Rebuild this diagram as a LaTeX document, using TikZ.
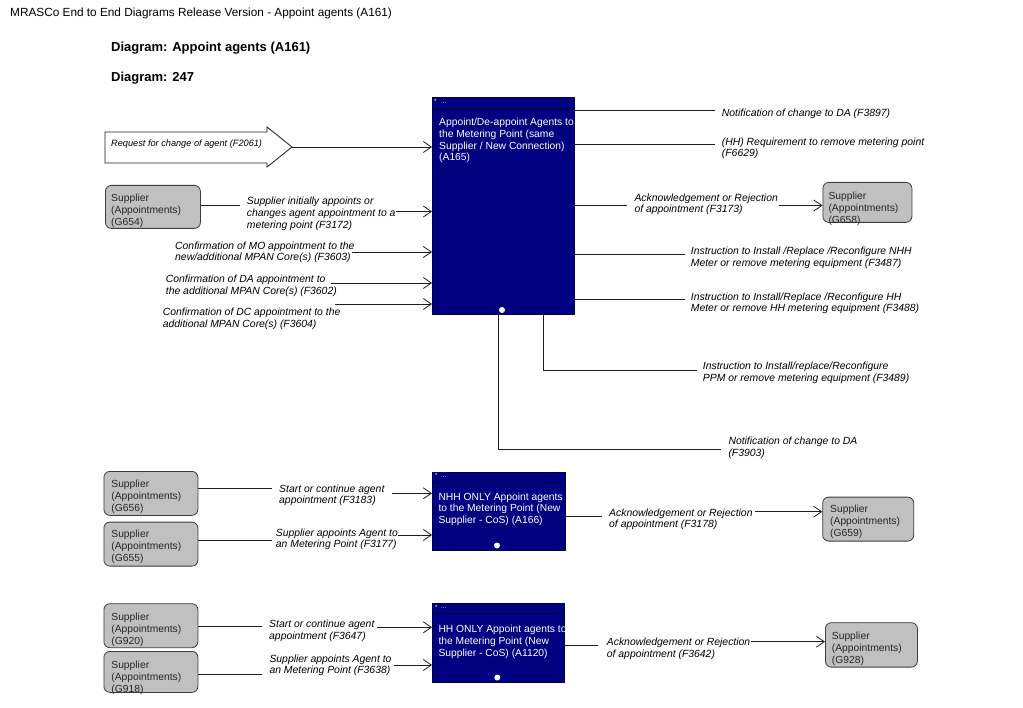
\documentclass[tikz,border=0pt]{standalone}
\usepackage{fontspec}
\setmainfont{Liberation Sans}
\usetikzlibrary{arrows.meta}
\definecolor{navybox}{RGB}{0,0,128}
\definecolor{navyedge}{RGB}{0,0,70}
\definecolor{suppfill}{RGB}{192,192,192}
\definecolor{suppedge}{RGB}{60,60,60}
\definecolor{linecol}{RGB}{30,30,30}
\tikzset{
  procbox/.style={draw=navyedge, fill=navybox, line width=0.8pt, rectangle, inner sep=0pt, anchor=north west},
  suppbox/.style={draw=suppedge, fill=suppfill, line width=0.8pt, rounded corners=6pt, inner sep=0pt, anchor=north west},
  lbl/.style={font=\fontsize{10.4}{11.7}\selectfont\itshape, anchor=north west, inner sep=0pt, align=left, text=black},
  boxtxt/.style={font=\fontsize{10.3}{11.7}\selectfont, anchor=north west, inner sep=0pt, align=left, text=white},
  supptxt/.style={font=\fontsize{10.3}{11.7}\selectfont, anchor=north west, inner sep=0pt, align=left, text=black!85},
  hdrtxt/.style={font=\fontsize{6}{6}\selectfont, anchor=north west, inner sep=0pt, text=white},
  conn/.style={draw=linecol, line width=0.8pt},
  arrconn/.style={conn, -{Straight Barb[length=8pt,width=11pt]}},
  wdot/.style={circle, fill=white, inner sep=0pt, minimum size=6pt}
}
\begin{document}
\begin{tikzpicture}[x=1pt, y=-1pt]
\useasboundingbox (0,0) rectangle (1023,708);
\fill[white] (0,0) rectangle (1023,708);

% titles
\node[anchor=north west, inner sep=0pt, font=\fontsize{11.8}{13}\selectfont] (title) at (10,8) {MRASCo End to End Diagrams Release Version - Appoint agents (A161)};
\node[anchor=north west, inner sep=0pt, font=\fontsize{13}{15}\selectfont\bfseries] (dname) at (111,41.5) {Diagram: Appoint agents (A161)};
\node[anchor=north west, inner sep=0pt, font=\fontsize{13}{15}\selectfont\bfseries] (dnum) at (111,71.5) {Diagram: 247};

% ===== main process A165 =====
\node[procbox, minimum width=142pt, minimum height=217pt] (A165) at (432,97) {};
\draw[navyedge, line width=0.8pt] (A165.north west |- 0,109) -- (A165.north east |- 0,109);
\node[hdrtxt] (A165s) at (434,99) {*};
\node[hdrtxt] (A165h) at (441,102) {...};
\node[boxtxt] (A165t) at (439,118) {Appoint/De-appoint Agents to\\the Metering Point (same\\Supplier / New Connection)\\(A165)};
\node[wdot] (A165d) at (502,310) {};

% request arrow shape
\draw[draw=linecol, fill=white, line width=0.8pt] (105,132) -- (267,132) -- (267,127) -- (292,147) -- (267,167) -- (267,163) -- (105,163) -- cycle;
\coordinate (reqtip) at (292,147);
\node[lbl, font=\fontsize{9.2}{11}\selectfont\itshape] (reqlbl) at (111,140) {Request for change of agent (F2061)};
\draw[arrconn] (reqtip) -- (reqtip -| A165.west);

% G654 input
\node[suppbox, minimum width=95pt, minimum height=43pt] (G654) at (105,185) {};
\node[supptxt] (G654t) at (111,194) {Supplier\\(Appointments)\\(G654)};
\coordinate (g654a) at (240,205);
\draw[conn] (G654.east |- g654a) -- (g654a);
\node[lbl] (F3172) at (246.7,197) {Supplier initially appoints or\\changes agent appointment to a\\metering point (F3172)};
\coordinate (g654b) at (396,211.5);
\draw[arrconn] (g654b) -- (g654b -| A165.west);

\node[lbl] (F3603) at (175,241.5) {Confirmation of MO appointment to the\\new/additional MPAN Core(s) (F3603)};
\coordinate (f3603) at (352,252);
\draw[arrconn] (f3603) -- (f3603 -| A165.west);

\node[lbl] (F3602) at (165.7,275) {Confirmation of DA appointment to\\the additional MPAN Core(s) (F3602)};
\coordinate (f3602) at (331,283);
\draw[arrconn] (f3602) -- (f3602 -| A165.west);

\node[lbl] (F3604) at (162.7,308) {Confirmation of DC appointment to the\\additional MPAN Core(s) (F3604)};
\coordinate (f3604) at (335,304);
\draw[arrconn] (f3604) -- (f3604 -| A165.west);

% outputs of A165
\coordinate (f3897) at (715,110);
\draw[conn] (f3897 -| A165.east) -- (f3897);
\node[lbl] (F3897l) at (721.7,109) {Notification of change to DA (F3897)};

\coordinate (f6629) at (715,144);
\draw[conn] (f6629 -| A165.east) -- (f6629);
\node[lbl] (F6629l) at (721.7,137.3) {(HH) Requirement to remove metering point\\(F6629)};

\coordinate (f3173a) at (627,205);
\draw[conn] (f3173a -| A165.east) -- (f3173a);
\node[lbl] (F3173l) at (634.3,193.3) {Acknowledgement or Rejection\\of appointment (F3173)};
\node[suppbox, minimum width=89pt, minimum height=40pt] (G658) at (822.5,182) {};
\node[supptxt] (G658t) at (828.3,192) {Supplier\\(Appointments)\\(G658)};
\coordinate (f3173b) at (779,205.5);
\draw[arrconn] (f3173b) -- (f3173b -| G658.west);

\coordinate (f3487) at (685,254);
\draw[conn] (f3487 -| A165.east) -- (f3487);
\node[lbl] (F3487l) at (690.7,246.7) {Instruction to Install /Replace /Reconfigure NHH\\Meter or remove metering equipment (F3487)};

\coordinate (f3488) at (685,299);
\draw[conn] (f3488 -| A165.east) -- (f3488);
\node[lbl] (F3488l) at (690.7,292.3) {Instruction to Install/Replace /Reconfigure HH\\Meter or remove HH metering equipment (F3488)};

\coordinate (f3489) at (696.5,370.5);
\draw[conn] (A165.south west) ++(111,0) coordinate (f3489s) -- (f3489s |- f3489) -- (f3489);
\node[lbl] (F3489l) at (702.7,361.7) {Instruction to Install/replace/Reconfigure\\PPM or remove metering equipment (F3489)};

\coordinate (f3903) at (720.5,449);
\draw[conn] (A165.south west) ++(66,0) coordinate (f3903s) -- (f3903s |- f3903) -- (f3903);
\node[lbl] (F3903l) at (728.3,436.7) {Notification of change to DA\\(F3903)};

% ===== process A166 =====
\node[procbox, minimum width=133pt, minimum height=78.5pt] (A166) at (432,471.7) {};
\draw[navyedge, line width=0.8pt] (A166.north west |- 0,482.3) -- (A166.north east |- 0,482.3);
\node[hdrtxt] (A166s) at (435,473.5) {*};
\node[hdrtxt] (A166h) at (441,476) {...};
\node[boxtxt] (A166t) at (438.3,492.5) {NHH ONLY Appoint agents\\to the Metering Point (New\\Supplier - CoS) (A166)};
\node[wdot] (A166d) at (497,545.5) {};

\node[suppbox, minimum width=94pt, minimum height=44pt] (G656) at (103.5,471) {};
\node[supptxt] (G656t) at (111.2,480) {Supplier\\(Appointments)\\(G656)};
\node[suppbox, minimum width=94pt, minimum height=44pt] (G655) at (103.5,521.7) {};
\node[supptxt] (G655t) at (111.2,530) {Supplier\\(Appointments)\\(G655)};

\coordinate (f3183a) at (272,488.3);
\draw[conn] (G656.east |- f3183a) -- (f3183a);
\node[lbl] (F3183l) at (279,484.3) {Start or continue agent\\appointment (F3183)};
\coordinate (f3183b) at (392,493.3);
\draw[arrconn] (f3183b) -- (f3183b -| A166.west);

\coordinate (f3177a) at (272,540);
\draw[conn] (G655.east |- f3177a) -- (f3177a);
\node[lbl] (F3177l) at (275.7,528.3) {Supplier appoints Agent to\\an Metering Point (F3177)};
\coordinate (f3177b) at (398,535);
\draw[arrconn] (f3177b) -- (f3177b -| A166.west);

\coordinate (f3178a) at (601.7,516.7);
\draw[conn] (f3178a -| A166.east) -- (f3178a);
\node[lbl] (F3178l) at (609,508.3) {Acknowledgement or Rejection\\of appointment (F3178)};
\node[suppbox, minimum width=91pt, minimum height=44pt] (G659) at (822.3,496.7) {};
\node[supptxt] (G659t) at (830,505) {Supplier\\(Appointments)\\(G659)};
\coordinate (f3178b) at (755,511.7);
\draw[arrconn] (f3178b) -- (f3178b -| G659.west);

% ===== process A1120 =====
\node[procbox, minimum width=132.3pt, minimum height=79pt] (A1120) at (432,603.3) {};
\draw[navyedge, line width=0.8pt] (A1120.north west |- 0,613) -- (A1120.north east |- 0,613);
\node[hdrtxt] (A1120s) at (435,605) {*};
\node[hdrtxt] (A1120h) at (441,607) {...};
\node[boxtxt] (A1120t) at (438.3,625) {HH ONLY Appoint agents to\\the Metering Point (New\\Supplier - CoS) (A1120)};
\node[wdot] (A1120d) at (497.3,677.5) {};

\node[suppbox, minimum width=94pt, minimum height=44pt] (G920) at (103.5,603.3) {};
\node[supptxt] (G920t) at (111.2,613) {Supplier\\(Appointments)\\(G920)};
\node[suppbox, minimum width=94pt, minimum height=41pt] (G918) at (103.5,651) {};
\node[supptxt] (G918t) at (111.2,661) {Supplier\\(Appointments)\\(G918)};

\coordinate (f3647a) at (262,626.7);
\draw[conn] (G920.east |- f3647a) -- (f3647a);
\node[lbl] (F3647l) at (269,620) {Start or continue agent\\appointment (F3647)};
\coordinate (f3647b) at (377,627.3);
\draw[arrconn] (f3647b) -- (f3647b -| A1120.west);

\coordinate (f3638a) at (262,674);
\draw[conn] (G918.east |- f3638a) -- (f3638a);
\node[lbl] (F3638l) at (269.3,654.3) {Supplier appoints Agent to\\an Metering Point (F3638)};
\coordinate (f3638b) at (394,665);
\draw[arrconn] (f3638b) -- (f3638b -| A1120.west);

\coordinate (f3642a) at (598,645.7);
\draw[conn] (f3642a -| A1120.east) -- (f3642a);
\node[lbl] (F3642l) at (606.7,637.7) {Acknowledgement or Rejection\\of appointment (F3642)};
\node[suppbox, minimum width=92pt, minimum height=44.4pt] (G928) at (825,622.3) {};
\node[supptxt] (G928t) at (831.7,632.3) {Supplier\\(Appointments)\\(G928)};
\coordinate (f3642b) at (751,641.7);
\draw[arrconn] (f3642b) -- (f3642b -| G928.west);
\end{tikzpicture}
\end{document}
